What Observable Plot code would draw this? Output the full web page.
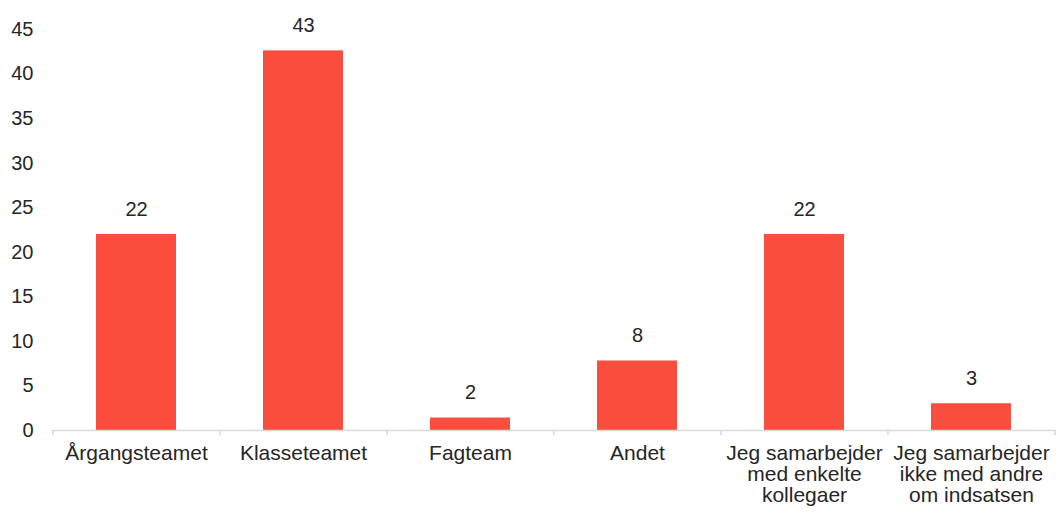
<!DOCTYPE html>
<html>
<head>
<meta charset="utf-8">
<script src="https://cdn.jsdelivr.net/npm/d3@7"></script>
<script src="https://cdn.jsdelivr.net/npm/@observablehq/plot@0.6"></script>
<style>
  html, body { margin: 0; padding: 0; background: #fff; }
  #chart svg { display: block; }
</style>
</head>
<body>
<div id="chart"></div>
<script>
const categories = [
  "Årgangsteamet",
  "Klasseteamet",
  "Fagteam",
  "Andet",
  "Jeg samarbejder\nmed enkelte\nkollegaer",
  "Jeg samarbejder\nikke med andre\nom indsatsen"
];
const values = [22, 42.6, 1.4, 7.8, 22, 3];
const valueLabels = ["22", "43", "2", "8", "22", "3"];
const yTicks = [0, 5, 10, 15, 20, 25, 30, 35, 40, 45];

const data = categories.map((c, i) => ({category: c, value: values[i], label: valueLabels[i]}));

const width = 1056, height = 512;
const marginLeft = 52, marginRight = 1;
const step = (width - marginLeft - marginRight) / categories.length;

const boundaries = [
  ...categories.map(c => ({category: c, dx: -step / 2})),
  {category: categories[categories.length - 1], dx: step / 2}
];

const chart = Plot.plot({
  width, height,
  marginLeft, marginRight,
  marginTop: 29,
  marginBottom: 82,
  style: {fontFamily: "'Liberation Sans', Arial, sans-serif", fontSize: "20px", color: "#262626", background: "#fff"},
  x: {domain: categories, paddingInner: 0.52, paddingOuter: 0.26, label: null},
  y: {domain: [0, 45], label: null},
  marks: [
    Plot.barY(data, {x: "category", y: "value", fill: "#f94d3d"}),
    Plot.ruleY([0], {stroke: "#d9d9d9", strokeWidth: 1.5}),
    ...boundaries.map(b => Plot.ruleX([b.category], {x: d => d, dx: b.dx, y1: 0, y2: -0.6, stroke: "#d9d9d9", strokeWidth: 1.5})),
    Plot.axisY({ticks: yTicks, tickSize: 0, tickPadding: 19, fontSize: 20, fill: "#262626"}),
    Plot.axisX({tickSize: 0, tickPadding: 15, fontSize: 21, lineHeight: 1, fill: "#262626"}),
    Plot.text(data, {x: "category", y: "value", text: "label", dy: -25, fontSize: 20, fill: "#262626"})
  ]
});
document.getElementById("chart").appendChild(chart);
</script>
</body>
</html>
